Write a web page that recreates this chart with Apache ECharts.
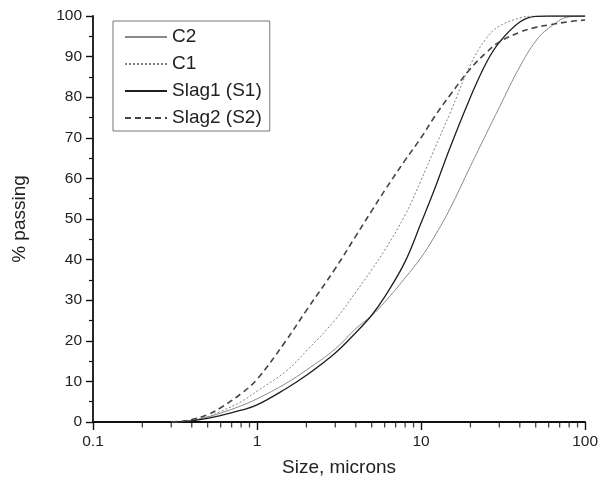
<!DOCTYPE html>
<html>
<head>
<meta charset="utf-8">
<script src="https://cdn.jsdelivr.net/npm/echarts@6/dist/echarts.min.js"></script>
<style>
html,body{margin:0;padding:0;background:#fff;}
#chart{width:601px;height:490px;}
</style>
</head>
<body>
<div id="chart"></div>
<script>
// Particle size (microns)
var sizes = [0.3, 0.35, 0.4, 0.5, 0.6, 0.8, 1, 1.5, 2, 3, 4, 5, 6, 8, 10, 12, 15, 20, 25, 30, 40, 50, 60, 80, 100];
// % passing
var c2    = [0, 0.1, 0.4, 1.2, 2.2, 4, 5.7, 9.5, 12.8, 18, 23, 26.2, 29.5, 35.5, 40.5, 45.5, 52.5, 63, 71, 77.5, 87.5, 93.8, 97, 99.8, 100];
var c1    = [0, 0.1, 0.4, 1.3, 2.6, 5, 7.6, 12.5, 17.5, 25.2, 32, 37.5, 42.3, 51, 59.5, 67, 76, 88, 94.5, 97.5, 99.5, 100, 100, 100, 100];
var slag1 = [0, 0.1, 0.3, 0.9, 1.6, 2.9, 4.2, 8.2, 11.5, 17, 22, 26.3, 30.8, 39.5, 49, 57, 67.5, 80, 88.5, 93.5, 98.5, 99.9, 100, 100, 100];
var slag2 = [0, 0.2, 0.6, 1.8, 3.5, 7, 10.5, 20, 27.5, 37.8, 45.8, 52, 57, 64.5, 70, 75, 80.5, 87, 91, 93.6, 96, 97.2, 97.8, 98.6, 99];
var seriesNames = ['C2', 'C1', 'Slag1 (S1)', 'Slag2 (S2)'];
var xTickLabels = ['0.1', '1', '10', '100'];
var xMinorTicks = [0.2, 0.3, 0.4, 0.5, 0.6, 0.7, 0.8, 0.9, 2, 3, 4, 5, 6, 7, 8, 9, 20, 30, 40, 50, 60, 70, 80, 90];

function pairs(vals) { return sizes.map(function (s, i) { return [s, vals[i]]; }); }

var font = 'Liberation Sans, Arial, sans-serif';
var chart = echarts.init(document.getElementById('chart'), null, {renderer: 'canvas'});

function lineSeries(name, vals, color, width, type) {
  return {
    name: name, type: 'line', data: pairs(vals), showSymbol: false, symbol: 'none',
    smooth: 0.4,
    lineStyle: {color: color, width: width, type: type},
    itemStyle: {color: color}, z: 3
  };
}

chart.setOption({
  animation: false,
  backgroundColor: '#fff',
  grid: {left: 93, right: 12, top: 16, bottom: 68, containLabel: false},
  legend: {
    show: true,
    data: seriesNames,
    orient: 'vertical', left: 113, top: 21,
    borderColor: '#777', borderWidth: 1, borderRadius: 0,
    backgroundColor: '#fff',
    padding: [6, 8, 3, 11],
    itemWidth: 42, itemHeight: 14, itemGap: 7,
    itemStyle: {opacity: 0},
    textStyle: {fontFamily: font, fontSize: 19, color: '#222', lineHeight: 20}
  },
  xAxis: {
    type: 'log', logBase: 10, min: 0.1, max: 100,
    name: 'Size, microns', nameLocation: 'middle', nameGap: 36,
    nameTextStyle: {fontFamily: font, fontSize: 19, color: '#222'},
    axisLine: {show: true, lineStyle: {color: '#111', width: 1.8}},
    axisTick: {show: true, inside: false, length: 8, lineStyle: {color: '#111', width: 1.4}},
    axisLabel: {fontFamily: font, fontSize: 15.5, color: '#222', margin: 12,
      formatter: function (v) {
        var idx = Math.round(Math.log10(v)) + 1;
        return xTickLabels[idx] !== undefined ? xTickLabels[idx] : '';
      }},
    splitLine: {show: false}
  },
  yAxis: {
    type: 'value', min: 0, max: 100, interval: 10,
    name: '% passing', nameLocation: 'middle', nameGap: 64, nameRotate: 90,
    nameTextStyle: {fontFamily: font, fontSize: 19, color: '#222'},
    axisLine: {show: true, lineStyle: {color: '#111', width: 1.8}},
    axisTick: {show: true, inside: false, length: 7, lineStyle: {color: '#111', width: 1.4}},
    minorTick: {show: true, splitNumber: 2, length: 4, lineStyle: {color: '#111', width: 1.2}},
    axisLabel: {fontFamily: font, fontSize: 15.5, color: '#222', margin: 11},
    splitLine: {show: false}
  },
  series: [
    lineSeries(seriesNames[0], c2, '#8a8a8a', 1, 'solid'),
    lineSeries(seriesNames[1], c1, '#808080', 1, [2, 2]),
    lineSeries(seriesNames[2], slag1, '#1e1e1e', 1.3, 'solid'),
    lineSeries(seriesNames[3], slag2, '#444444', 1.6, [6, 4]),
    {
      name: 'minorTicks', type: 'scatter', silent: true, clip: false,
      data: xMinorTicks.map(function (v) { return [v, 0]; }),
      symbol: 'rect', symbolSize: [1.3, 5], symbolOffset: [0, 3],
      itemStyle: {color: '#111'}, z: 5
    }
  ]
});
</script>
</body>
</html>
